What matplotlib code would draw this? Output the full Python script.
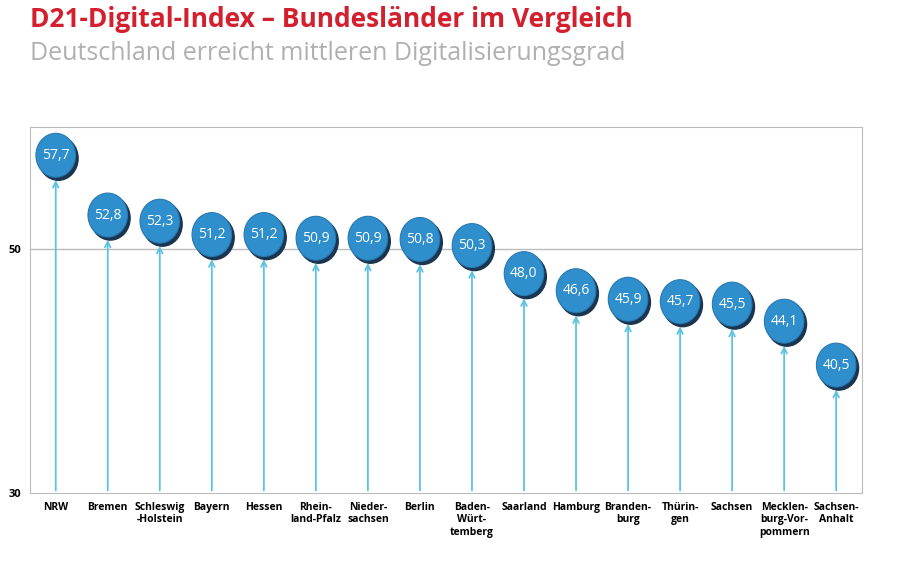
import matplotlib.pyplot as plt
from matplotlib.patches import Ellipse

laender = ['NRW', 'Bremen', 'Schleswig\n-Holstein', 'Bayern', 'Hessen', 'Rhein-\nland-Pfalz',
           'Nieder-\nsachsen', 'Berlin', 'Baden-\nWürt-\ntemberg', 'Saarland', 'Hamburg',
           'Branden-\nburg', 'Thürin-\ngen', 'Sachsen', 'Mecklen-\nburg-Vor-\npommern', 'Sachsen-\nAnhalt']
werte = [57.7, 52.8, 52.3, 51.2, 51.2, 50.9, 50.9, 50.8, 50.3, 48.0, 46.6, 45.9, 45.7, 45.5, 44.1, 40.5]

plt.rcParams['font.family'] = ['Open Sans', 'DejaVu Sans']
fig = plt.figure(figsize=(9, 5.63), dpi=100)
ax = fig.add_axes([0.033, 0.124, 0.925, 0.65])
ax.set_xlim(-0.5, 15.5)
ax.set_ylim(30, 60)

bw, bh = 0.76, 3.6
for i, v in enumerate(werte):
    ax.annotate('', xy=(i, v - bh / 2), xytext=(i, 30),
                arrowprops=dict(arrowstyle='->', color='#5bc3e0', lw=1.3), zorder=2)
    ax.add_patch(Ellipse((i + 0.05, v - 0.25), bw, bh, color='#1a3550', zorder=3))
    ax.add_patch(Ellipse((i, v), bw, bh, facecolor='#2f8fcc', edgecolor='#2878b0', lw=0.8, zorder=4))
    ax.text(i, v, f'{v:.1f}'.replace('.', ','), color='white', fontsize=10,
            ha='center', va='center', zorder=5)

ax.axhline(50, color='#bbbbbb', lw=1, zorder=1)
ax.set_yticks([30, 50])
ax.set_yticklabels(['30', '50'], fontsize=8, fontweight='bold')
ax.set_xticks(range(len(laender)))
ax.set_xticklabels(laender, fontsize=7.5, fontweight='bold', va='top')
ax.tick_params(length=0, pad=6)
for s in ax.spines.values():
    s.set_color('#bbbbbb')

fig.text(0.033, 0.965, 'D21-Digital-Index – Bundesländer im Vergleich', color='#d3202f',
         fontsize=19, fontweight='bold', va='center')
fig.text(0.033, 0.905, 'Deutschland erreicht mittleren Digitalisierungsgrad', color='#b0b0b0',
         fontsize=18, va='center')

fig.savefig('out.png')
